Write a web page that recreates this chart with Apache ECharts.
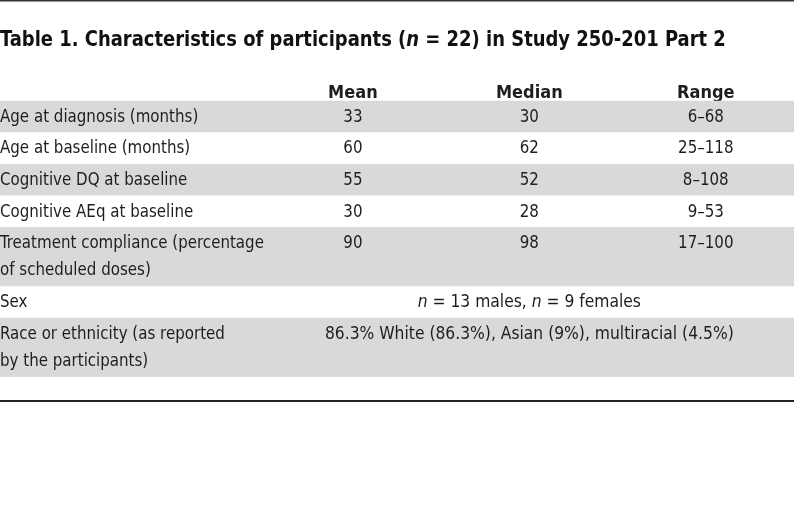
<!DOCTYPE html>
<html>
<head>
<meta charset="utf-8">
<script src="https://cdn.jsdelivr.net/npm/echarts@6/dist/echarts.min.js"></script>
<style>html,body{margin:0;padding:0;background:#fff;}#c{width:794px;height:515px;}</style>
</head>
<body>
<div id="c"></div>
<script>
// ---- data ----
const titleText = 'Table 1. Characteristics of participants ({i|n} = 22) in Study 250-201 Part 2';
const headers = ['Mean', 'Median', 'Range'];
const rowLabels = [
  'Age at diagnosis (months)',
  'Age at baseline (months)',
  'Cognitive DQ at baseline',
  'Cognitive AEq at baseline',
  'Treatment compliance (percentage\nof scheduled doses)',
  'Sex',
  'Race or ethnicity (as reported\nby the participants)'
];
const means = [33, 60, 55, 30, 90];
const medians = [30, 62, 52, 28, 98];
const ranges = ['6–68', '25–118', '8–108', '9–53', '17–100'];
const mergedValues = [
  '{i|n} = 13 males, {i|n} = 9 females',
  '86.3% White (86.3%), Asian (9%), multiracial (4.5%)'
];

// ---- layout / style ----
const FONT = '"DejaVu Sans Condensed", "DejaVu Sans", sans-serif';
const TEXT = '#1e1e1e';
const STRIPE = '#d9d9d9';
const SINGLE = 1;          // row height in axis units
const EXTRA_LINE = 0.87;   // added per extra text line
const FIRST = 0.52;        // first line centre offset
const PITCH = 0.85;        // line pitch
const SX = 0.93;           // horizontal condensing of body text
const X_MIN = -1, X_MAX = 3.5;

const lineCounts = rowLabels.map(s => s.split('\n').length);
const rowHeights = lineCounts.map(n => SINGLE + EXTRA_LINE * (n - 1));
const rowTops = [];
rowHeights.reduce((acc, h, i) => { rowTops[i] = acc; return acc + h; }, 0);

const chart = echarts.init(document.getElementById('c'), null, {renderer: 'canvas'});

function txt(pos, text, align, sx) {
  return {
    type: 'text',
    x: pos[0], y: pos[1],
    scaleX: sx,
    style: {
      text: text, x: 0, y: 0,
      align: align, verticalAlign: 'middle',
      fontSize: 18, fontFamily: FONT, fill: TEXT,
      rich: {i: {fontStyle: 'italic', fontSize: 18, fontFamily: FONT, fill: TEXT}}
    }
  };
}

function renderItem(params, api) {
  const i = api.value(0);
  const top = rowTops[i], bottom = top + rowHeights[i];
  const p0 = api.coord([X_MIN, top]);
  const p1 = api.coord([X_MAX, bottom]);
  const children = [];
  if (i % 2 === 0) {
    children.push({type: 'rect', shape: {x: p0[0], y: p0[1], width: p1[0] - p0[0], height: p1[1] - p0[1]}, style: {fill: STRIPE}});
  }
  rowLabels[i].split('\n').forEach((line, k) => {
    children.push(txt(api.coord([X_MIN, top + FIRST + k * PITCH]), line, 'left', SX));
  });
  const yMid = top + FIRST;
  if (i < means.length) {
    children.push(txt(api.coord([1, yMid]), String(means[i]), 'center', SX));
    children.push(txt(api.coord([2, yMid]), String(medians[i]), 'center', SX));
    children.push(txt(api.coord([3, yMid]), ranges[i], 'center', SX));
  } else {
    children.push(txt(api.coord([2, yMid]), mergedValues[i - means.length], 'center', 0.96));
  }
  return {type: 'group', children: children};
}

chart.setOption({
  animation: false,
  backgroundColor: '#fff',
  graphic: [
    {type: 'rect', left: 0, top: 0, shape: {x: 0, y: 0, width: 794, height: 1.6}, style: {fill: '#333'}},
    {type: 'text', x: 0, y: 41, scaleX: 0.95,
     style: {text: titleText, x: 0, y: 0, verticalAlign: 'middle',
       fontSize: 21, fontWeight: 'bold', fontFamily: FONT, fill: '#111',
       rich: {i: {fontSize: 21, fontWeight: 'bold', fontStyle: 'italic', fontFamily: FONT, fill: '#111'}}}}
  ],
  grid: {left: 0, right: 0, top: 100.7, height: 300.2, containLabel: false, outerBoundsMode: 'none'},
  xAxis: [
    {type: 'value', min: X_MIN, max: X_MAX, interval: 1, position: 'bottom',
     axisLine: {show: true, onZero: false, lineStyle: {color: '#222', width: 2}},
     axisTick: {show: false}, axisLabel: {show: false}, splitLine: {show: false}},
    {type: 'value', min: X_MIN, max: X_MAX, interval: 1, position: 'top',
     axisLine: {show: false}, axisTick: {show: false}, splitLine: {show: false},
     axisLabel: {show: true, margin: 7.7, verticalAlign: 'middle', showMaxLabel: false, showMinLabel: false,
       fontSize: 18, fontWeight: 'bold', fontFamily: FONT, color: TEXT,
       formatter: v => (v >= 1 && v <= 3) ? headers[v - 1] : ''}}
  ],
  yAxis: {type: 'value', min: 0, max: 9.5, inverse: true, show: false},
  series: [{
    type: 'custom',
    renderItem: renderItem,
    clip: false,
    data: rowLabels.map((_, i) => [i]),
    encode: {x: -1, y: 0}
  }]
});
</script>
</body>
</html>
